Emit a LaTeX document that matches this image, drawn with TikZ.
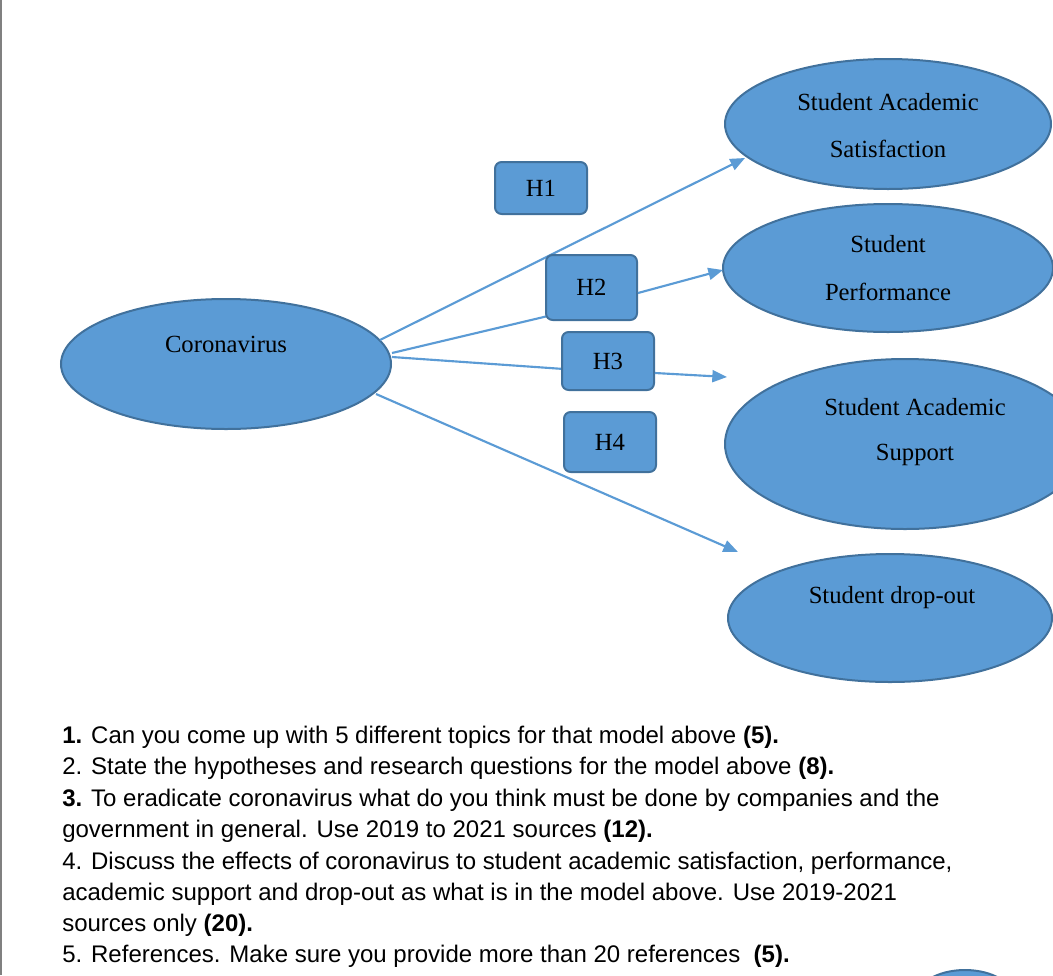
\documentclass[tikz,border=0pt]{standalone}
\usepackage{fontspec}
\setmainfont{Liberation Serif}
\newfontfamily\arialf{Liberation Sans}
\usetikzlibrary{arrows.meta}
\definecolor{fillb}{HTML}{5B9BD5}
\definecolor{edgeb}{HTML}{41719C}
\begin{document}
\begin{tikzpicture}[x=0.75pt,y=-0.75pt,
  ell/.style={draw=edgeb,line width=1.5pt,fill=fillb},
  hbox/.style={draw=edgeb,line width=1.5pt,fill=fillb,rounded corners=5pt},
  lab/.style={font=\fontsize{18.5}{22}\selectfont,text=black},
  con/.style={draw=fillb,line width=1.6pt},
  arr/.style={con,-{Triangle[length=11pt,width=9pt]}},
  q/.style={anchor=base west,inner sep=0pt,font=\arialf\fontsize{18}{22}\selectfont}]
\useasboundingbox (0,0) rectangle (1053,975);
\begin{scope}
\clip (0,0) rectangle (1053,975);
\draw[gray,line width=1pt] (1,0) -- (1,975);
\draw[ell] (226,364) ellipse [x radius=165,y radius=65];
\draw[ell] (888,124) ellipse [x radius=163,y radius=65];
\draw[ell] (888,268) ellipse [x radius=165,y radius=64];
\draw[ell] (905,444) ellipse [x radius=180,y radius=85];
\draw[ell] (890,618) ellipse [x radius=162,y radius=64];
\draw[ell] (965,1000) ellipse [x radius=50,y radius=30];
\end{scope}
\node[lab] (tc) at (226,344) {Coronavirus};
\node[lab] at (888,102) {Student Academic};
\node[lab] at (888,149) {Satisfaction};
\node[lab] at (888,244) {Student};
\node[lab] at (888,292) {Performance};
\node[lab] at (915,407) {Student Academic};
\node[lab] at (915,455) {Support};
\node[lab] at (892,598) {Student drop-out};
\coordinate (a1s) at (380,340); \coordinate (a1e) at (745,158);
\coordinate (a2s) at (392,353); \coordinate (a2e) at (723,270);
\coordinate (a3s) at (392,357); \coordinate (a3e) at (727,377);
\coordinate (a4s) at (376,394); \coordinate (a4e) at (738,552);
\draw[arr] (a1s) -- (a1e);
\draw[arr] (a4s) -- (a4e);
\draw[con] (a2s) -- (548,316);
\draw[con] (a3s) -- (564,369);
\node[hbox,minimum width=92pt*0.75,minimum height=52pt*0.75,lab] (h1) at (541,188) {H1};
\node[hbox,minimum width=91pt*0.75,minimum height=65pt*0.75,lab] (h2) at (591.5,287.5) {H2};
\node[hbox,minimum width=92pt*0.75,minimum height=58pt*0.75,lab] (h3) at (608,361) {H3};
\node[hbox,minimum width=92pt*0.75,minimum height=60pt*0.75,lab] (h4) at (610,442) {H4};
\draw[arr] (h2.east |- 0,293) -- (a2e);
\draw[arr] (h3.east |- 0,373) -- (a3e);
\begin{scope}
\clip (0,0) rectangle (1053,975);
\node[q] at (62,743) {\textbf{1.} Can you come up with 5 different topics for that model above \textbf{(5).}};
\node[q] at (62,774) {2. State the hypotheses and research questions for the model above \textbf{(8).}};
\node[q] at (62,806) {\textbf{3.} To eradicate coronavirus what do you think must be done by companies and the};
\node[q] at (62,837) {government in general. Use 2019 to 2021 sources \textbf{(12).}};
\node[q] at (62,869) {4. Discuss the effects of coronavirus to student academic satisfaction, performance,};
\node[q] at (62,900) {academic support and drop-out as what is in the model above. Use 2019-2021};
\node[q] at (62,931) {sources only \textbf{(20).}};
\node[q] at (62,962) {5. References. Make sure you provide more than 20 references~ \textbf{(5).}};
\end{scope}
\end{tikzpicture}
\end{document}
